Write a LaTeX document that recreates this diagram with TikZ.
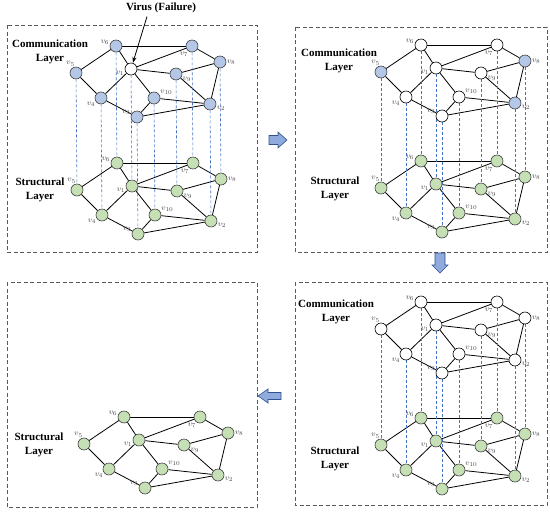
\documentclass[tikz,border=0pt]{standalone}
\usepackage{fontspec}
\setmainfont{Liberation Serif}
\usetikzlibrary{backgrounds,arrows.meta}

\definecolor{commblue}{HTML}{B4C7E7}
\definecolor{structgreen}{HTML}{C5E0B4}
\definecolor{linkblue}{HTML}{4472C4}
\definecolor{arrowblue}{HTML}{8FAADC}
\definecolor{arrowedge}{HTML}{2F528F}

\tikzset{
	vertex/.style={circle, draw=black!75, line width=0.6pt, minimum size=12pt, inner sep=0pt, label distance=0.5pt},
	cnode/.style={vertex, fill=commblue},
	snode/.style={vertex, fill=structgreen},
	fnode/.style={vertex, fill=white, draw=black},
	vlabel/.style={text=black!70, font=\fontsize{8}{8}\selectfont, inner sep=0.5pt},
	edge/.style={line width=0.8pt},
	link/.style={linkblue, line width=0.6pt, dash pattern=on 3pt off 2pt},
	panel/.style={draw=black!65, line width=0.8pt, dash pattern=on 4pt off 2.5pt},
	layername/.style={font=\bfseries\fontsize{11}{14}\selectfont, align=center},
	blockarrow/.style={draw=arrowedge, fill=arrowblue, line width=0.6pt},
	% comm nodes that differ from their layer
	tlc1/.style={fnode},
	trc5/.style={cnode}, trc8/.style={cnode}, trc2/.style={cnode},
}

% one layer of the network: name, x, y of v5, node style
\newcommand{\netlayer}[4]{%
	\begin{scope}[shift={(#2,#3)}]
		\foreach \n/\dx/\dy/\a in {1/55/-4/190, 2/134/31/-15, 3/61/44/160, 4/25/25/215, 5/0/0/95,
				6/40/-27/170, 7/116/-27/-120, 8/144/-11/0, 9/100/1/-20, 10/78/25/25}
			\node[#4, #1\n/.try, label={[vlabel]\a:$v_{\n}$}] (#1\n) at (\dx, \dy) {};
	\end{scope}
	\begin{scope}[on background layer]
		\foreach \p/\q in {5/6, 5/4, 6/7, 6/1, 7/8, 7/1, 8/9, 8/2, 1/9, 1/4, 1/10, 9/2, 4/3, 10/3, 10/2, 3/2}
			\draw[edge] (#1\p) -- (#1\q);
	\end{scope}
}

\begin{document}
\begin{tikzpicture}[x=1pt, y=-1pt]
	\useasboundingbox (0, 0) rectangle (550, 512);

	% panels
	\draw[panel] (7, 25) rectangle (257, 252);
	\draw[panel] (295, 27) rectangle (547, 252);
	\draw[panel] (295, 282) rectangle (547, 505);
	\draw[panel] (7, 282) rectangle (257, 507);

	% layers
	\netlayer{tlc}{76}{73}{cnode}
	\netlayer{tls}{77}{190}{snode}
	\netlayer{trc}{381}{72}{fnode}
	\netlayer{trs}{381}{188}{snode}
	\netlayer{brc}{381}{329}{fnode}
	\netlayer{brs}{381}{445}{snode}
	\netlayer{bls}{84}{444}{snode}

	% links between the two layers
	\begin{scope}[on background layer]
		\foreach \n in {1, ..., 10} {
			\draw[link] (tlc\n) -- (tls\n);
			\draw[link] (trc\n) -- (trs\n);
			\draw[link] (brc\n) -- (brs\n);
		}
	\end{scope}

	% layer names
	\node[layername] (tlcname) at (50, 52) {Communication\\Layer};
	\node[layername] (tlsname) at (40, 190) {Structural\\Layer};
	\node[layername] (trcname) at (339, 61) {Communication\\Layer};
	\node[layername] (trsname) at (335, 189) {Structural\\Layer};
	\node[layername] (brcname) at (336, 312) {Communication\\Layer};
	\node[layername] (brsname) at (335, 459) {Structural\\Layer};
	\node[layername] (blsname) at (39, 445) {Structural\\Layer};

	% failure
	\node[font=\bfseries\fontsize{11}{13}\selectfont] (virus) at (161, 8) {Virus (Failure)};
	\draw[line width=0.8pt, -{Stealth[length=6pt, width=4pt]}] ([xshift=-14pt]virus.south) -- (tlc1);

	% steps
	\draw[blockarrow] (269, 135.5) -- (278, 135.5) -- (278, 132) -- (287, 140) -- (278, 148) -- (278, 144.5) -- (269, 144.5) -- cycle;
	\draw[blockarrow] (435, 253) -- (445, 253) -- (445, 265) -- (448, 265) -- (440, 273) -- (432, 265) -- (435, 265) -- cycle;
	\draw[blockarrow] (281, 392.5) -- (268, 392.5) -- (268, 389) -- (258, 396) -- (268, 403) -- (268, 399.5) -- (281, 399.5) -- cycle;
\end{tikzpicture}
\end{document}
